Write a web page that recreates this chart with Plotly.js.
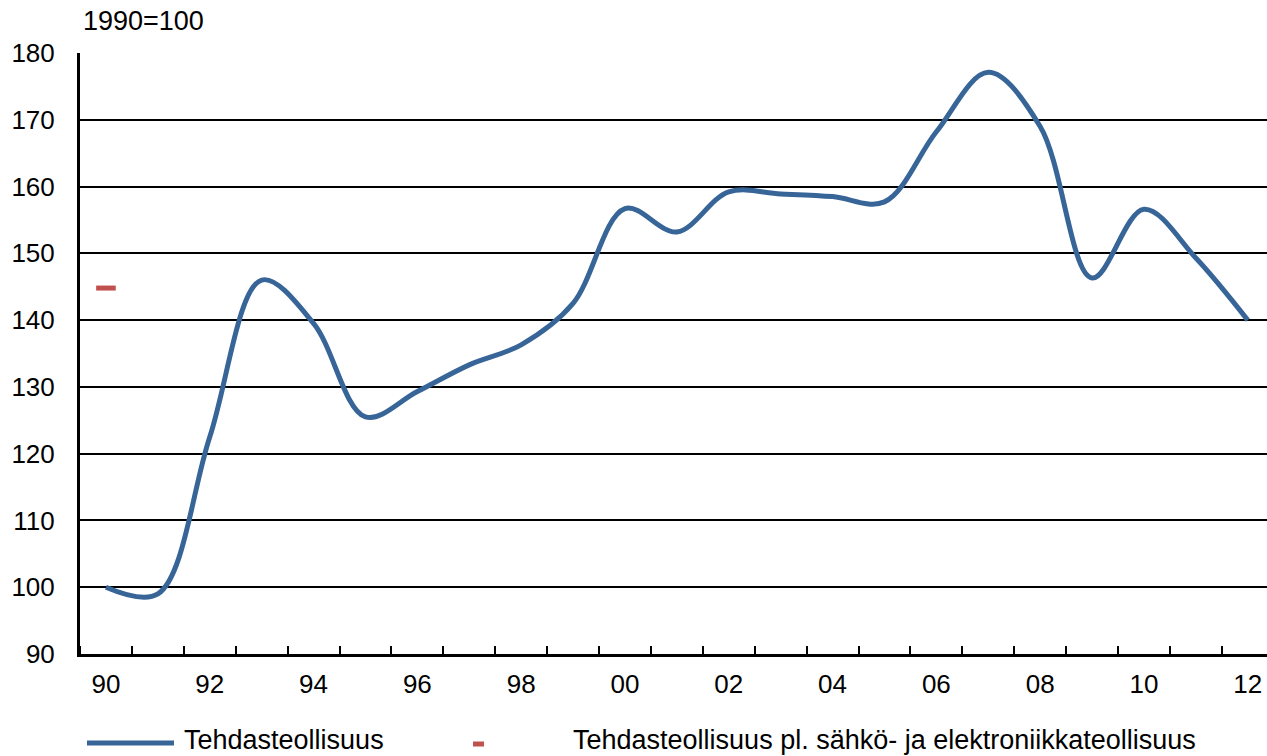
<!DOCTYPE html>
<html>
<head>
<meta charset="utf-8">
<script src="https://cdn.plot.ly/plotly-3.0.1.min.js"></script>
<style>
  html, body { margin: 0; padding: 0; background: #fff; }
  #chart { width: 1267px; height: 756px; }
</style>
</head>
<body>
<div id="chart"></div>
<script>
// ---- Data ----
const years = [1990, 1991, 1992, 1993, 1994, 1995, 1996, 1997, 1998, 1999, 2000, 2001,
               2002, 2003, 2004, 2005, 2006, 2007, 2008, 2009, 2010, 2011, 2012];
const tehdasteollisuus = [100, 99, 122.5, 146, 139.5, 125.5, 129.3, 133.3, 136.3, 142.5, 156.7, 153.2,
                          159.2, 158.9, 158.5, 157.7, 168.2, 177.1, 169, 146.3, 156.6, 149.3, 140];
const plYears = [1990];
const plSahkoElektroniikka = [144.8];
const xTickVals = [1990, 1992, 1994, 1996, 1998, 2000, 2002, 2004, 2006, 2008, 2010, 2012];
const xTickText = ['90', '92', '94', '96', '98', '00', '02', '04', '06', '08', '10', '12'];
const yTickVals = [90, 100, 110, 120, 130, 140, 150, 160, 170, 180];
const seriesNames = ['Tehdasteollisuus', 'Tehdasteollisuus pl. sähkö- ja elektroniikkateollisuus'];
const baseNote = '1990=100';

const blue = '#386598';
const red = '#C0504D';
const FONT = 'Liberation Sans, Arial, sans-serif';

// plot area geometry helpers (paper coords)
const W = 1267, H = 756, L = 80, T = 53, B = 102;
const pw = W - L, ph = H - T - B;
const px = v => (v - L) / pw;
const py = v => (H - B - v) / ph;

const traces = [
  {
    x: years, y: tehdasteollisuus, name: seriesNames[0], type: 'scatter', mode: 'lines',
    line: { color: blue, width: 5, shape: 'spline', smoothing: 1 },
    showlegend: false, cliponaxis: false
  },
  {
    x: plYears, y: plSahkoElektroniikka, name: seriesNames[1], type: 'scatter', mode: 'markers',
    marker: { symbol: 'line-ew', size: 14, color: red, line: { color: red, width: 5 } },
    showlegend: false, cliponaxis: false
  }
];

const layout = {
  width: W, height: H,
  margin: { l: L, r: 0, t: T, b: B, pad: 0 },
  paper_bgcolor: '#fff', plot_bgcolor: '#fff',
  font: { family: FONT, size: 26, color: '#000' },
  showlegend: false,
  title: { text: baseNote, x: 83 / W, xanchor: 'left', y: 1 - 21 / H, yanchor: 'middle',
           font: { family: FONT, size: 27, color: '#000' } },
  xaxis: {
    range: [1989.5, 1989.5 + pw / 51.9],
    tickmode: 'array', tickvals: xTickVals, ticktext: xTickText,
    ticks: '', showgrid: false, zeroline: false,
    showline: true, linecolor: '#000', linewidth: 3,
    tickfont: { family: FONT, size: 26, color: '#000' },
    ticklabelstandoff: 5,
    minor: { tick0: 1990.5, dtick: 1, ticks: 'inside', ticklen: 8, tickwidth: 2, tickcolor: '#000', showgrid: false }
  },
  yaxis: {
    range: [90, 180],
    tickmode: 'array', tickvals: yTickVals,
    ticks: '', showgrid: true, gridcolor: '#000', gridwidth: 2, zeroline: false,
    showline: true, linecolor: '#000', linewidth: 3,
    tickfont: { family: FONT, size: 26, color: '#000' },
    ticklabelstandoff: 17
  },
  shapes: [
    { type: 'line', xref: 'paper', yref: 'paper', x0: px(87), x1: px(174), y0: py(743), y1: py(743),
      line: { color: blue, width: 5 } },
    { type: 'line', xref: 'paper', yref: 'paper', x0: px(473), x1: px(484), y0: py(744), y1: py(744),
      line: { color: red, width: 5 } }
  ],
  annotations: [
    { xref: 'paper', yref: 'paper', x: px(182), y: py(740), xanchor: 'left', yanchor: 'middle',
      text: seriesNames[0], showarrow: false, font: { family: FONT, size: 27, color: '#000' } },
    { xref: 'paper', yref: 'paper', x: px(571), y: py(740), xanchor: 'left', yanchor: 'middle',
      text: seriesNames[1], showarrow: false, font: { family: FONT, size: 27, color: '#000' } }
  ]
};

Plotly.newPlot('chart', traces, layout, { displayModeBar: false, staticPlot: true });
</script>
</body>
</html>
